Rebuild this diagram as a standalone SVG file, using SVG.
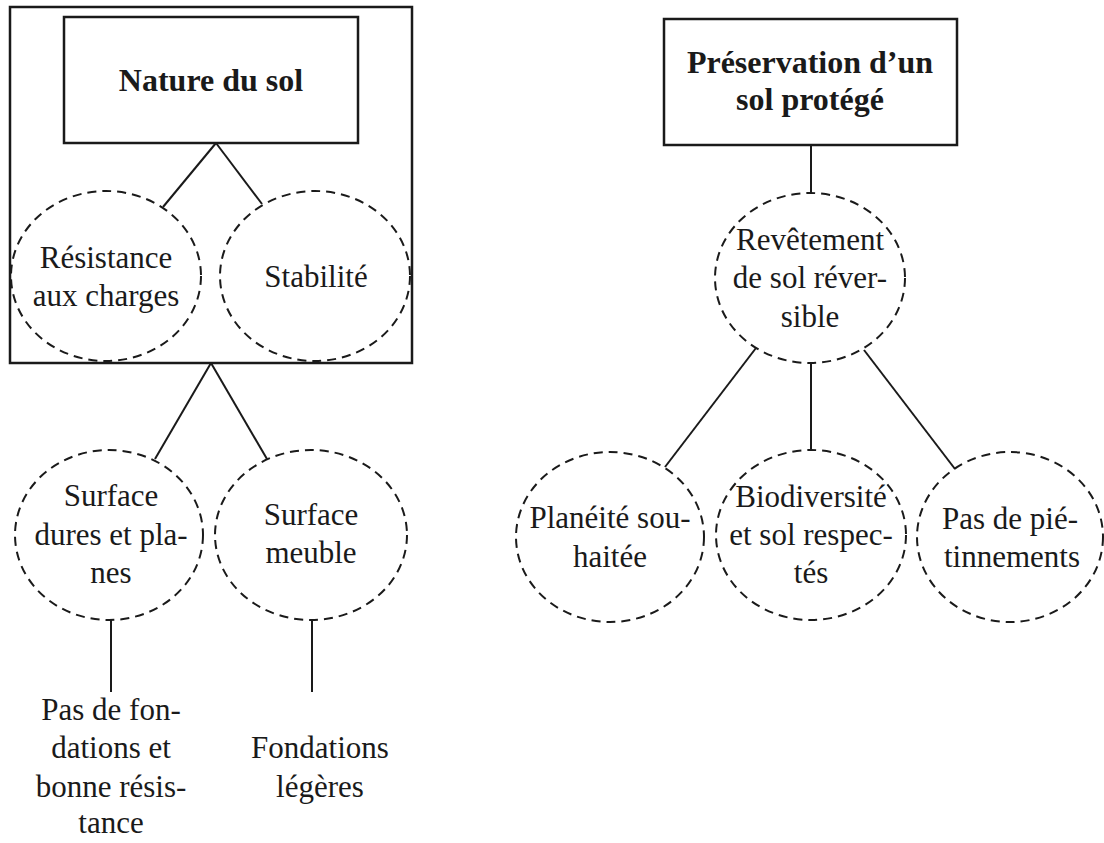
<svg xmlns="http://www.w3.org/2000/svg" width="1104" height="843" viewBox="0 0 1104 843">
<style>
.bg{fill:#ffffff}
.box{fill:none;stroke:#1a1a1a;stroke-width:2.5}
.dash{fill:none;stroke:#1a1a1a;stroke-width:2;stroke-dasharray:9 6}
.ln{stroke:#1a1a1a;stroke-width:2;fill:none}
.t{font-family:"Liberation Serif","Times New Roman",serif;font-size:31px;fill:#1a1a1a;text-anchor:middle}
.b{font-family:"Liberation Serif","Times New Roman",serif;font-size:32px;font-weight:bold;fill:#1a1a1a;text-anchor:middle}
</style>
<rect class="bg" x="0" y="0" width="1104" height="843"/>
<g id="connectors">
<line class="ln" x1="216" y1="143" x2="163" y2="207"/>
<line class="ln" x1="216" y1="143" x2="262" y2="204"/>
<line class="ln" x1="211" y1="363" x2="155" y2="459"/>
<line class="ln" x1="211" y1="363" x2="267" y2="459"/>
<line class="ln" x1="111" y1="620" x2="111" y2="692"/>
<line class="ln" x1="312" y1="620" x2="312" y2="692"/>
<line class="ln" x1="811" y1="145" x2="811" y2="193"/>
<line class="ln" x1="756" y1="348" x2="665" y2="467"/>
<line class="ln" x1="811" y1="363" x2="811" y2="449"/>
<line class="ln" x1="864" y1="350" x2="955" y2="469"/>
</g>
<g id="group-nature">
<rect class="box" x="10" y="7" width="402" height="356"/>
</g>
<g id="nature-du-sol">
<rect class="box" x="64" y="17" width="294" height="126"/>
<text class="b" x="211" y="91">Nature du sol</text>
</g>
<g id="resistance">
<ellipse class="dash" cx="106" cy="276" rx="95" ry="85"/>
<text class="t" x="106" y="268">Résistance</text>
<text class="t" x="106" y="306">aux charges</text>
</g>
<g id="stabilite">
<ellipse class="dash" cx="315" cy="276" rx="95" ry="85"/>
<text class="t" x="316" y="287">Stabilité</text>
</g>
<g id="surface-dures">
<ellipse class="dash" cx="109" cy="535" rx="94" ry="85"/>
<text class="t" x="111" y="506">Surface</text>
<text class="t" x="111" y="545">dures et pla-</text>
<text class="t" x="111" y="583">nes</text>
</g>
<g id="surface-meuble">
<ellipse class="dash" cx="311" cy="535" rx="96" ry="85"/>
<text class="t" x="311" y="525">Surface</text>
<text class="t" x="311" y="563">meuble</text>
</g>
<g id="pas-de-fondations">
<text class="t" x="111" y="720">Pas de fon-</text>
<text class="t" x="111" y="758">dations et</text>
<text class="t" x="111" y="797">bonne résis-</text>
<text class="t" x="111" y="833">tance</text>
</g>
<g id="fondations-legeres">
<text class="t" x="320" y="758">Fondations</text>
<text class="t" x="320" y="797">légères</text>
</g>
<g id="preservation">
<rect class="box" x="664" y="19" width="293" height="126"/>
<text class="b" x="810" y="73">Préservation d’un</text>
<text class="b" x="810" y="110">sol protégé</text>
</g>
<g id="revetement">
<ellipse class="dash" cx="810" cy="278" rx="95" ry="85"/>
<text class="t" x="810" y="250">Revêtement</text>
<text class="t" x="810" y="288">de sol réver-</text>
<text class="t" x="810" y="327">sible</text>
</g>
<g id="planeite">
<ellipse class="dash" cx="610" cy="537" rx="94" ry="85"/>
<text class="t" x="610" y="528">Planéité sou-</text>
<text class="t" x="610" y="567">haitée</text>
</g>
<g id="biodiversite">
<ellipse class="dash" cx="811" cy="535" rx="95" ry="85"/>
<text class="t" x="811" y="507">Biodiversité</text>
<text class="t" x="811" y="545">et sol respec-</text>
<text class="t" x="811" y="583">tés</text>
</g>
<g id="pietinnements">
<ellipse class="dash" cx="1010" cy="537" rx="93" ry="85"/>
<text class="t" x="1010" y="529">Pas de pié-</text>
<text class="t" x="1012" y="567">tinnements</text>
</g>
</svg>
